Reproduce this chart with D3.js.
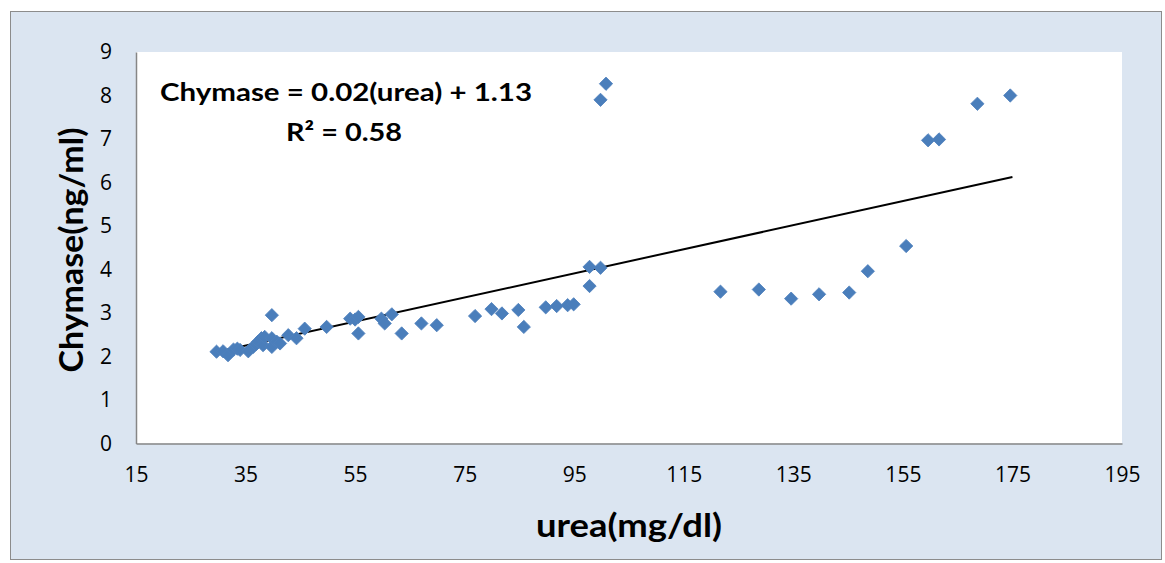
<!DOCTYPE html>
<html><head><meta charset="utf-8">
<script src="https://cdn.jsdelivr.net/npm/d3@7"></script>
<style>html,body{margin:0;padding:0;background:#fff;}svg{display:block;}</style>
</head><body>
<svg id="chart" width="1165" height="563"></svg>
<script>
// Data
const ureaValues = [29.7,30.9,31.8,32.8,33.5,34.0,35.5,36.4,36.9,37.3,37.9,38.2,38.5,39.8,39.8,39.8,40.7,41.3,42.8,44.3,45.8,49.8,54.1,55.0,55.6,55.6,59.8,60.4,61.7,63.5,67.1,69.9,76.9,79.9,81.8,84.8,85.8,89.8,91.8,93.8,94.9,97.8,99.8,97.8,99.8,100.8,121.7,128.7,134.6,139.7,145.2,148.6,155.6,159.6,161.6,168.6,174.6];
const chymaseValues = [2.11,2.12,2.03,2.16,2.18,2.15,2.12,2.22,2.28,2.34,2.42,2.26,2.45,2.95,2.42,2.22,2.34,2.30,2.49,2.42,2.64,2.68,2.87,2.85,2.91,2.53,2.87,2.76,2.97,2.53,2.76,2.72,2.93,3.09,2.99,3.07,2.68,3.13,3.16,3.18,3.20,4.06,4.04,3.62,7.90,8.27,3.49,3.54,3.33,3.43,3.47,3.96,4.54,6.97,6.99,7.81,8.00];
const xTicks = [15,35,55,75,95,115,135,155,175,195];
const yTicks = [0,1,2,3,4,5,6,7,8,9];
const trendSlope = 0.0277, trendIntercept = 1.28;   // drawn trend line
const trendRange = [29.5, 175];
const equationText = "Chymase = 0.02(urea) + 1.13";
const r2Text = "R² = 0.58";
const xTitle = "urea(mg/dl)";
const yTitle = "Chymase(ng/ml)";

const svg = d3.select("#chart");
const plot = {left:136, right:1122, top:52, bottom:443.5};

// outer background
svg.append("rect").attr("x",10.5).attr("y",11.5).attr("width",1151).attr("height",548)
  .attr("fill","#dbe5f1").attr("stroke","#8c8c8c").attr("stroke-width",1);
// plot area
svg.append("rect").attr("x",plot.left).attr("y",plot.top)
  .attr("width",plot.right-plot.left).attr("height",plot.bottom-plot.top).attr("fill","#ffffff");

const x = d3.scaleLinear().domain([15,195]).range([plot.left, plot.right]);
const y = d3.scaleLinear().domain([0,9]).range([plot.bottom, plot.top]);

const tickFont = "'Open Sans', 'Liberation Sans', sans-serif";

const xAxis = d3.axisBottom(x).tickValues(xTicks).tickSize(0).tickPadding(24).tickFormat(d3.format("d"));
const gx = svg.append("g").attr("transform",`translate(0,${plot.bottom})`).call(xAxis);
gx.select(".domain").attr("stroke","#868686").attr("stroke-width",1.5);
gx.selectAll("text").attr("font-family",tickFont).attr("font-size",21).attr("fill","#000");

const yAxis = d3.axisLeft(y).tickValues(yTicks).tickSize(0).tickPadding(24).tickFormat(d3.format("d"));
const gy = svg.append("g").attr("transform",`translate(${plot.left},0)`).call(yAxis);
gy.select(".domain").attr("stroke","#868686").attr("stroke-width",1.5);
gy.selectAll("text").attr("font-family",tickFont).attr("font-size",21).attr("fill","#000");

// trend line
svg.append("line")
  .attr("x1",x(trendRange[0])).attr("y1",y(trendSlope*trendRange[0]+trendIntercept))
  .attr("x2",x(trendRange[1])).attr("y2",y(trendSlope*trendRange[1]+trendIntercept))
  .attr("stroke","#000").attr("stroke-width",2);

// points (diamonds)
const pts = ureaValues.map((u,i)=>({u, c:chymaseValues[i]}));
const diamond = d3.symbol().type(d3.symbolSquare).size(88);
svg.append("g").selectAll("path").data(pts).join("path")
  .attr("d",diamond)
  .attr("transform",d=>`translate(${x(d.u)},${y(d.c)}) rotate(45)`)
  .attr("fill","#4a7ebb").attr("stroke","#4f81bd").attr("stroke-width",0.8);

const boldFont = "Lato, 'Open Sans', sans-serif";
svg.append("text").attr("x",160).attr("y",101).text(equationText)
  .attr("font-family",boldFont).attr("font-weight","bold").attr("font-size",24)
  .attr("textLength",372).attr("lengthAdjust","spacingAndGlyphs");
svg.append("text").attr("x",286).attr("y",141).text(r2Text)
  .attr("font-family",boldFont).attr("font-weight","bold").attr("font-size",24)
  .attr("textLength",116).attr("lengthAdjust","spacingAndGlyphs");

svg.append("text").attr("x",629).attr("y",537).attr("text-anchor","middle").text(xTitle)
  .attr("font-family",boldFont).attr("font-weight","bold").attr("font-size",32)
  .attr("textLength",186).attr("lengthAdjust","spacingAndGlyphs");
svg.append("text").attr("transform","translate(83,250) rotate(-90)").attr("text-anchor","middle").text(yTitle)
  .attr("font-family",boldFont).attr("font-weight","bold").attr("font-size",32)
  .attr("textLength",245).attr("lengthAdjust","spacingAndGlyphs");
</script>
</body></html>
